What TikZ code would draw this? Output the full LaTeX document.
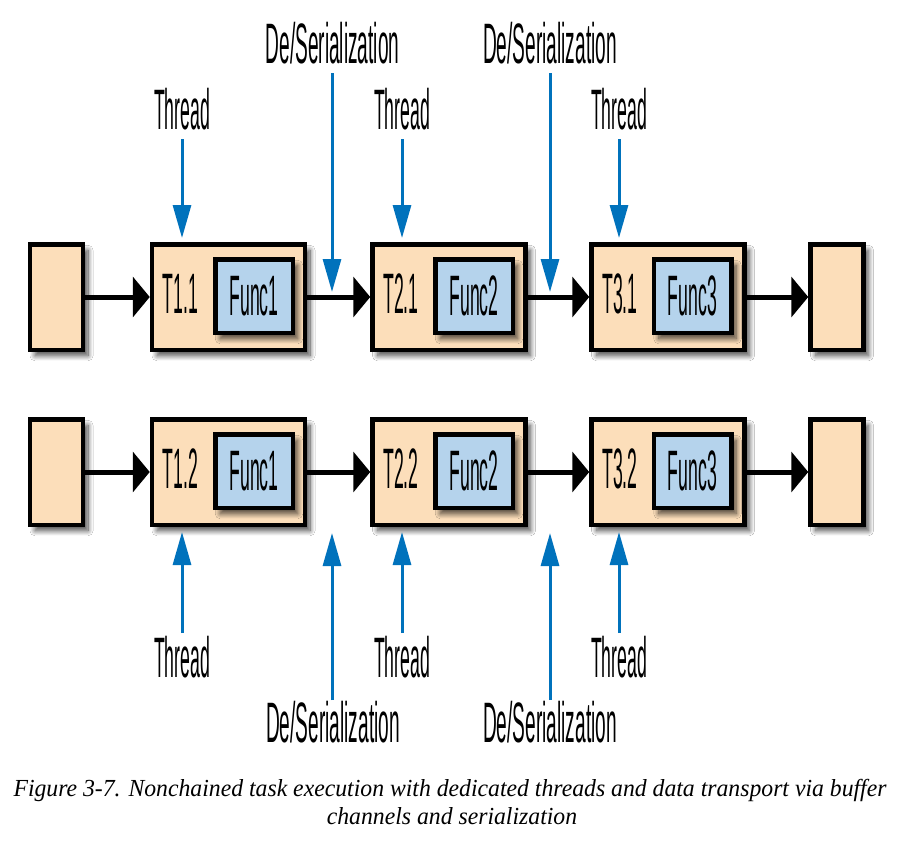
\documentclass[tikz,border=0pt]{standalone}
\usepackage{fontspec}
\usetikzlibrary{arrows.meta,shadows.blur}
\newfontfamily\lblfont[FakeStretch=0.31]{Liberation Sans}
\newfontfamily\serfont[FakeStretch=0.335]{Liberation Sans}
\newfontfamily\capfont[FakeStretch=0.968]{Liberation Serif}
\definecolor{peach}{RGB}{252,222,186}
\definecolor{funcblue}{RGB}{181,211,236}
\definecolor{arrowblue}{RGB}{0,114,188}
\tikzset{
  myshadow/.style={blur shadow={shadow xshift=5pt, shadow yshift=-6pt, shadow blur radius=5pt, shadow blur steps=12, shadow opacity=70}},
  taskbox/.style={draw=black, line width=4.5pt, fill=peach, inner sep=0pt, minimum width=153pt, minimum height=105.5pt, myshadow},
  endbox/.style={draw=black, line width=4.5pt, fill=peach, inner sep=0pt, minimum width=53pt, minimum height=105.5pt, myshadow},
  funcbox/.style={draw=black, line width=4.5pt, fill=funcblue, inner sep=0pt, minimum width=77.5pt, minimum height=73.5pt, myshadow, font=\lblfont\fontsize{57}{60}\selectfont},
  lbl/.style={font=\lblfont\fontsize{57}{60}\selectfont, inner sep=0pt, anchor=base},
  serlbl/.style={font=\serfont\fontsize{57}{60}\selectfont, inner sep=0pt, anchor=base},
  caplbl/.style={font=\capfont\itshape\fontsize{24.5}{30}\selectfont, inner sep=0pt, anchor=base},
  flow/.style={draw=black, line width=5pt, -{Triangle[length=17pt,width=40pt]}},
  ctl/.style={draw=arrowblue, line width=3pt, -{Triangle[length=33pt,width=18pt]}}
}
\begin{document}
\begin{tikzpicture}[x=1pt,y=-1pt]
\fill[white] (0,0) rectangle (918,846);
\useasboundingbox (0,0) rectangle (918,846);

% ---- row 1 ----
\node[endbox] (src1) at (56.5,297) {};
\node[taskbox] (t11) at (228.5,297) {};
\node[taskbox] (t21) at (449,297) {};
\node[taskbox] (t31) at (668,297) {};
\node[endbox] (snk1) at (837,297) {};
\node[funcbox] (f11) at (254,296) {Func1};
\node[funcbox] (f21) at (474,296) {Func2};
\node[funcbox] (f31) at (692.5,296) {Func3};
\node[lbl] (l11) at (180.5,313) {T1.1};
\node[lbl] (l21) at (401,313) {T2.1};
\node[lbl] (l31) at (620,313) {T3.1};

% ---- row 2 ----
\node[endbox] (src2) at (56.5,472) {};
\node[taskbox] (t12) at (228.5,472) {};
\node[taskbox] (t22) at (449,472) {};
\node[taskbox] (t32) at (668,472) {};
\node[endbox] (snk2) at (837,472) {};
\node[funcbox] (f12) at (254,471) {Func1};
\node[funcbox] (f22) at (474,471) {Func2};
\node[funcbox] (f32) at (692.5,471) {Func3};
\node[lbl] (l12) at (180.5,488) {T1.2};
\node[lbl] (l22) at (401,488) {T2.2};
\node[lbl] (l32) at (620,488) {T3.2};

% ---- flow arrows ----
\draw[flow] (src1.east) -- (t11.west);
\draw[flow] (t11.east) -- (t21.west);
\draw[flow] (t21.east) -- (t31.west);
\draw[flow] (t31.east) -- (snk1.west);
\draw[flow] (src2.east) -- (t12.west);
\draw[flow] (t12.east) -- (t22.west);
\draw[flow] (t22.east) -- (t32.west);
\draw[flow] (t32.east) -- (snk2.west);

% ---- top labels ----
\node[lbl] (th1) at (182,129) {Thread};
\node[lbl] (th2) at (402,129) {Thread};
\node[lbl] (th3) at (619,129) {Thread};
\node[serlbl] (ds1) at (332.5,63) {De/Serialization};
\node[serlbl] (ds2) at (550,63) {De/Serialization};

\coordinate (ta1) at (182,139);
\coordinate (ta2) at (402,139);
\coordinate (ta3) at (619,139);
\draw[ctl, shorten >=4pt] (ta1) -- (ta1 |- t11.north);
\draw[ctl, shorten >=4pt] (ta2) -- (ta2 |- t21.north);
\draw[ctl, shorten >=4pt] (ta3) -- (ta3 |- t31.north);
\coordinate (da1) at (332,73);
\coordinate (de1) at (332,292);
\coordinate (da2) at (550,73);
\coordinate (de2) at (550,292);
\draw[ctl] (da1) -- (de1);
\draw[ctl] (da2) -- (de2);

% ---- bottom labels ----
\node[lbl] (tb1l) at (182,677) {Thread};
\node[lbl] (tb2l) at (402,677) {Thread};
\node[lbl] (tb3l) at (619,677) {Thread};
\node[serlbl] (db1l) at (333,742) {De/Serialization};
\node[serlbl] (db2l) at (550,742) {De/Serialization};

\coordinate (tb1) at (182,633);
\coordinate (tb2) at (402,633);
\coordinate (tb3) at (619,633);
\draw[ctl, shorten >=5pt] (tb1) -- (tb1 |- t12.south);
\draw[ctl, shorten >=5pt] (tb2) -- (tb2 |- t22.south);
\draw[ctl, shorten >=5pt] (tb3) -- (tb3 |- t32.south);
\coordinate (db1) at (332,700);
\coordinate (dc1) at (332,533);
\coordinate (db2) at (550,700);
\coordinate (dc2) at (550,533);
\draw[ctl] (db1) -- (dc1);
\draw[ctl] (db2) -- (dc2);

% ---- caption ----
\node[caplbl] (cap1) at (450,796) {Figure 3-7. Nonchained task execution with dedicated threads and data transport via buffer};
\node[caplbl] (cap2) at (452,824) {channels and serialization};
\end{tikzpicture}
\end{document}
